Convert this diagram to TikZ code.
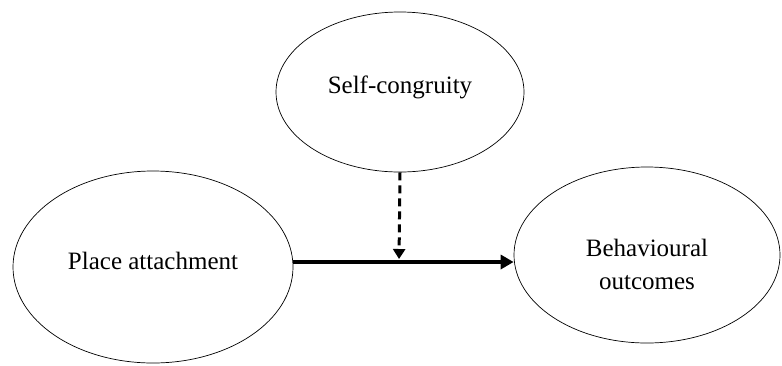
\documentclass[tikz,border=0pt]{standalone}
\usepackage{fontspec}
\setmainfont{Liberation Serif}
\usetikzlibrary{shapes.geometric,arrows.meta}

\begin{document}
\begin{tikzpicture}[x=1pt,y=-1pt,
        konstruk/.style={draw, ellipse, line width=0.7pt, inner sep=0pt, align=center,
            font=\fontsize{25}{33}\selectfont},
        pengaruh/.style={line width=4pt, -{Triangle[length=13pt,width=14pt]}},
        moderasi/.style={line width=3pt, dash pattern=on 8pt off 5pt,
            -{Triangle[length=10pt,width=12pt]}, shorten >=3pt}]
        %BATAS
        \useasboundingbox (0,0) rectangle (782,365);
        %KOORDINAT
        \coordinate (M) at (399,262);
        %ELIPS
        \node[konstruk, minimum width=248, minimum height=160, text depth=14pt] (SC) at (400,92) {Self-congruity};
        \node[konstruk, minimum width=280, minimum height=192, text depth=12pt] (PA) at (153,267) {Place attachment};
        \node[konstruk, minimum width=266, minimum height=176] (BO) at (647,255) {\rule{0pt}{36pt}Behavioural\\outcomes};
        %PANAH
        \draw[pengaruh] (PA.east |- M) -- (BO.west |- M);
        \draw[moderasi] (SC.south) -- (M);
    \end{tikzpicture}
\end{document}
